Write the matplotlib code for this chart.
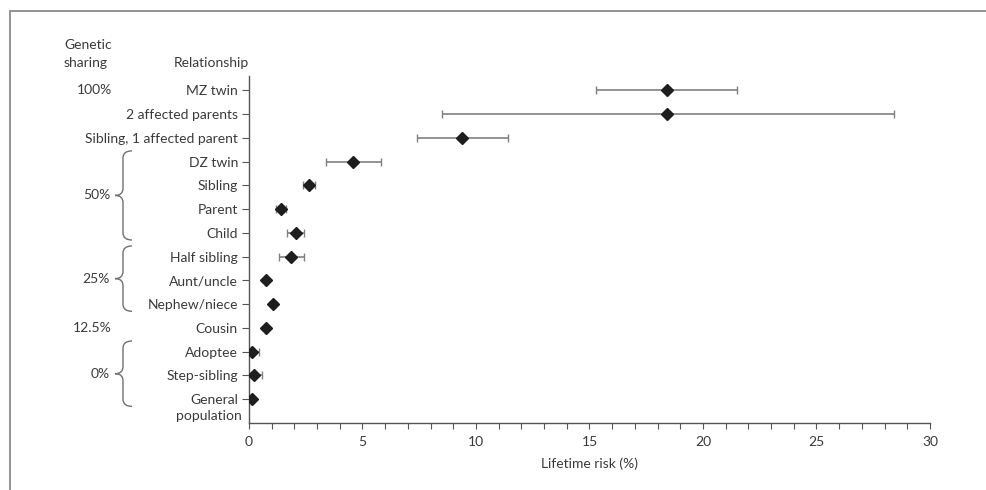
import matplotlib
matplotlib.use("Agg")
import matplotlib.pyplot as plt
from matplotlib.path import Path
from matplotlib.patches import PathPatch, Rectangle
import matplotlib.transforms as mtransforms
import numpy as np

# ---------------- data ----------------
relationships = ["MZ twin", "2 affected parents", "Sibling, 1 affected parent",
                 "DZ twin", "Sibling", "Parent", "Child", "Half sibling",
                 "Aunt/uncle", "Nephew/niece", "Cousin", "Adoptee",
                 "Step-sibling", "General\npopulation"]
risk = [18.4, 18.4, 9.4, 4.6, 2.65, 1.42, 2.05, 1.85, 0.77, 1.05, 0.73, 0.12, 0.2, 0.14]
ci_low = [15.3, 8.5, 7.4, 3.4, 2.4, 1.2, 1.67, 1.32, 0.77, 1.05, 0.73, 0.0, 0.0, 0.14]
ci_high = [21.5, 28.4, 11.4, 5.8, 2.9, 1.63, 2.42, 2.42, 0.77, 1.05, 0.73, 0.42, 0.58, 0.14]

sharing_labels = ["100%", "50%", "25%", "12.5%", "0%"]
sharing_first_row = [0, 3, 7, 10, 11]
sharing_last_row = [0, 6, 9, 10, 13]

x_ticks = [0, 5, 10, 15, 20, 25, 30]

# ---------------- figure ----------------
W, H = 987, 490
fig = plt.figure(figsize=(W / 100, H / 100), dpi=100)
plt.rcParams['font.family'] = ['Lato', 'DejaVu Sans']
text_col = "#3a3a3a"
grey = "#808080"

ax = fig.add_axes([249 / W, 1 - 423 / H, 681 / W, (423 - 76) / H])

rows = np.arange(len(relationships))
risk = np.array(risk)
lo = risk - np.array(ci_low)
hi = np.array(ci_high) - risk

ax.errorbar(risk, rows, xerr=[lo, hi], fmt="none", ecolor=grey, elinewidth=1.2,
            capsize=2.8, capthick=1.0, zorder=2)
ax.plot(risk, rows, linestyle="none", marker="D", markersize=6.5,
        color="#1e1e1e", zorder=3)

ax.set_xlim(0, 30)
ax.set_ylim(len(relationships), -0.6)

for s in ["top", "right"]:
    ax.spines[s].set_visible(False)
for s in ["left", "bottom"]:
    ax.spines[s].set_color("#555555")
    ax.spines[s].set_linewidth(1.0)

ax.set_xticks(x_ticks)
ax.set_xticks(np.arange(0, 31, 1), minor=True)
ax.tick_params(axis="x", which="both", direction="out", length=4, width=0.8,
               colors="#555555", labelcolor=text_col, labelsize=10, pad=5)

ax.set_yticks(rows)
labels_first = [r.split("\n")[0] for r in relationships]
ax.set_yticklabels(labels_first)
ax.tick_params(axis="y", which="both", direction="out", length=5, width=0.8,
               colors="#555555", labelcolor=text_col, labelsize=10, pad=3)
for i, r in enumerate(relationships):
    parts = r.split("\n")
    if len(parts) > 1:
        ax.text(-0.011, i + 0.7, parts[1], transform=mtransforms.blended_transform_factory(ax.transAxes, ax.transData),
                ha="right", va="center", fontsize=10, color=text_col)

ax.set_xlabel("Lifetime risk (%)", fontsize=10, color=text_col, labelpad=7)

# headers
fig.text(64 / W, 1 - 45 / H, "Genetic", ha="left", va="center", fontsize=10, color=text_col)
fig.text(64 / W, 1 - 63 / H, "sharing", ha="left", va="center", fontsize=10, color=text_col)
fig.text(249 / W, 1 - 63 / H, "Relationship", ha="right", va="center", fontsize=10, color=text_col)

# sharing labels and braces
bt = mtransforms.blended_transform_factory(fig.transFigure, ax.transData)
x_hook = 132 / W
x_stem = 123 / W
x_tip = 115 / W
for lab, r0, r1 in zip(sharing_labels, sharing_first_row, sharing_last_row):
    if r0 == r1:
        ax.text(112 / W, r0, lab, transform=bt, ha="right", va="center",
                fontsize=10, color=text_col)
        continue
    top = r0 - 0.45
    bot = r1 + 0.3
    mid = (top + bot) / 2
    rr = 0.3
    verts = [(x_hook, top), (x_stem, top), (x_stem, top + rr),
             (x_stem, mid - rr), (x_stem, mid), (x_tip, mid),
             (x_stem, mid), (x_stem, mid + rr),
             (x_stem, bot - rr), (x_stem, bot), (x_hook, bot)]
    codes = [Path.MOVETO, Path.CURVE3, Path.CURVE3,
             Path.LINETO, Path.CURVE3, Path.CURVE3,
             Path.CURVE3, Path.CURVE3,
             Path.LINETO, Path.CURVE3, Path.CURVE3]
    patch = PathPatch(Path(verts, codes), transform=bt, fill=False,
                      edgecolor="#707070", linewidth=1.0, clip_on=False)
    ax.add_artist(patch)
    ax.text(110 / W, mid, lab, transform=bt, ha="right", va="center",
            fontsize=10, color=text_col)

# outer frame
fig.patches.append(Rectangle((10 / W, -0.1), 1.2, 1 - 11 / H + 0.1,
                             transform=fig.transFigure, fill=False,
                             edgecolor="#8a8a8a", linewidth=1.3))

fig.savefig("out.png", dpi=100)
